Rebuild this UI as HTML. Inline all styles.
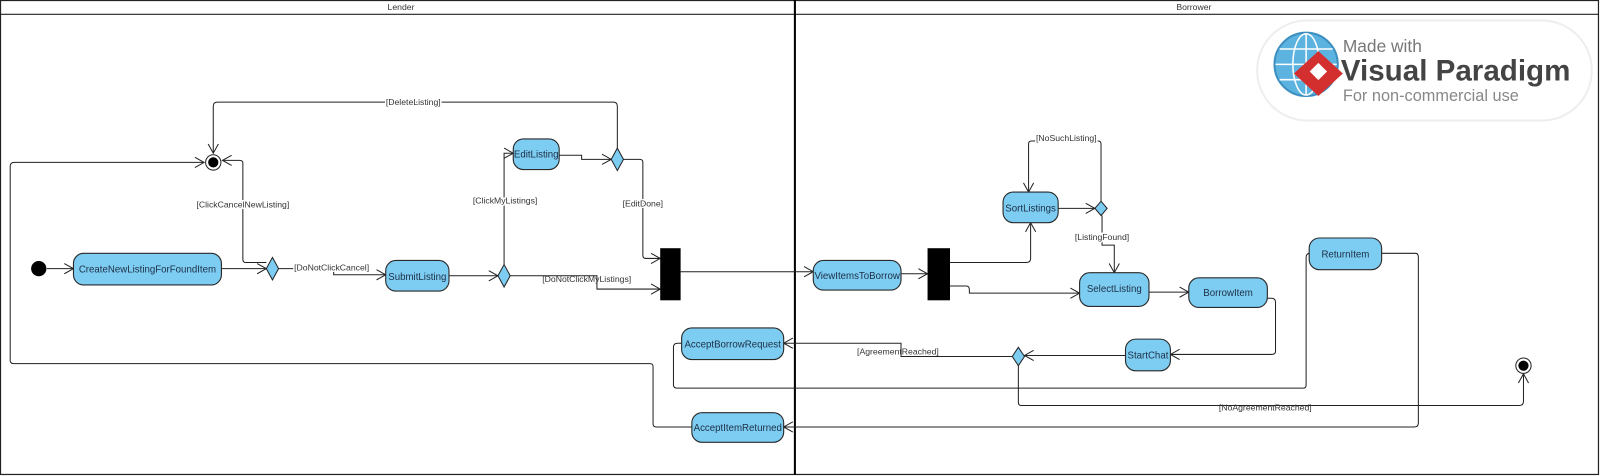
<!DOCTYPE html>
<html><head><meta charset="utf-8"><style>
html,body{margin:0;padding:0;background:#fff;}
svg{display:block;}
text{font-family:"Liberation Sans",Arial,sans-serif;}
.n{fill:#7dcdf3;stroke:#2a2a2a;stroke-width:1.1;}
.nt{font-size:9.5px;fill:#1c2e44;text-anchor:middle;}
.g{font-size:8.5px;fill:#333;text-anchor:middle;}
.l{fill:none;stroke:#222;stroke-width:1;}
.d{fill:#7dcdf3;stroke:#222;stroke-width:1;}
</style></head><body>
<svg width="1600" height="476" viewBox="0 0 1568 466" preserveAspectRatio="none" xmlns="http://www.w3.org/2000/svg">
<defs>
<marker id="a" markerWidth="12" markerHeight="12" refX="10" refY="6" orient="auto" markerUnits="userSpaceOnUse">
<path d="M1,1 L10,6 L1,11" fill="none" stroke="#222" stroke-width="1"/>
</marker>
</defs>
<rect x="0.5" y="0.5" width="1566" height="464" fill="#fff" stroke="#222" stroke-width="1.2"/>
<line x1="0" y1="14" x2="1567" y2="14" stroke="#222" stroke-width="1.2"/>
<line x1="779" y1="0" x2="779" y2="465" stroke="#000" stroke-width="2"/>
<text x="393" y="10" class="g" font-size="8.5">Lender</text>
<text x="1170" y="10" class="g" font-size="8.5">Borrower</text>

<!-- logo -->
<rect x="1232" y="20" width="328" height="98" rx="49" fill="#fff" stroke="#eee" stroke-width="2"/>
<circle cx="1280" cy="63" r="31" fill="#5cb3e0" stroke="#3d8fc0" stroke-width="2"/>
<g stroke="#fff" stroke-width="1.5" fill="none">
<ellipse cx="1280" cy="63" rx="13" ry="30"/><line x1="1280" y1="33" x2="1280" y2="93"/>
<line x1="1250" y1="63" x2="1310" y2="63"/><line x1="1254" y1="48" x2="1306" y2="48"/><line x1="1254" y1="78" x2="1306" y2="78"/>
</g>
<path d="M1292,50 L1316,72 L1292,94 L1268,72 Z" fill="#d32f2f"/>
<rect x="1286" y="64" width="12" height="12" fill="#fff" transform="rotate(45 1292 70)"/>
<text x="1316" y="51" font-size="17" fill="#777">Made with</text>
<text x="1314" y="79" font-size="29" font-weight="bold" fill="#444">Visual Paradigm</text>
<text x="1316" y="99" font-size="16" fill="#888">For non-commercial use</text>

<!-- connectors -->
<path class="l" d="M46,263 H72" marker-end="url(#a)"/>
<path class="l" d="M217,263 H261" marker-end="url(#a)"/>
<path class="l" d="M273,263 H327 V269 H378" marker-end="url(#a)"/>
<text x="325" y="265" class="g" style="paint-order:stroke" stroke="#fff" stroke-width="3">[DoNotClickCancel]</text>
<path class="l" d="M261,257 H241 Q238,257 238,254 V160 Q238,157 235,157 H218" marker-end="url(#a)"/>
<text x="238" y="203" class="g" style="paint-order:stroke" stroke="#fff" stroke-width="3">[ClickCancelNewListing]</text>
<path class="l" d="M10,353 V163 Q10,159 14,159 H200" marker-end="url(#a)"/>
<path class="l" d="M440,270 H488" marker-end="url(#a)"/>
<path class="l" d="M494,259 V150 H503" marker-end="url(#a)"/>
<text x="495" y="199" class="g" style="paint-order:stroke" stroke="#fff" stroke-width="3">[ClickMyListings]</text>
<path class="l" d="M500,270 H585 V283 H647" marker-end="url(#a)"/>
<text x="575" y="276" class="g" fill="#000">[DoNotClickMyListings]</text>
<path class="l" d="M548,152 H570 V156 H599" marker-end="url(#a)"/>
<path class="l" d="M605,145 V104 Q605,100 601,100 H213 Q209,100 209,104 V150" marker-end="url(#a)"/>
<text x="405" y="103" class="g" style="paint-order:stroke" stroke="#fff" stroke-width="3" fill="#000">[DeleteListing]</text>
<path class="l" d="M611,156 H627 Q630,156 630,159 V250 Q630,253 633,253 H647" marker-end="url(#a)"/>
<text x="630" y="202" class="g" style="paint-order:stroke" stroke="#fff" stroke-width="3">[EditDone]</text>
<path class="l" d="M10,353 Q10,356 14,356 H637 Q640,356 640,359 V415 Q640,418 643,418 H678"/>
<path class="l" d="M667,266 H797" marker-end="url(#a)"/>
<path class="l" d="M883,268 H909" marker-end="url(#a)"/>
<path class="l" d="M931,257 H1006 Q1010,257 1010,253 V218" marker-end="url(#a)"/>
<path class="l" d="M931,280 H947 Q950,280 950,284 V287 H1058" marker-end="url(#a)"/>
<path class="l" d="M1037,204 H1073" marker-end="url(#a)"/>
<path class="l" d="M1079,197 V141 Q1079,138 1076,138 H1011 Q1008,138 1008,141 V188" marker-end="url(#a)"/>
<text x="1045" y="138" class="g" style="paint-order:stroke" stroke="#fff" stroke-width="3">[NoSuchListing]</text>
<path class="l" d="M1080,211 V240 H1092 V267" marker-end="url(#a)"/>
<text x="1080" y="235" class="g" style="paint-order:stroke" stroke="#fff" stroke-width="3">[ListingFound]</text>
<path class="l" d="M1126,286 H1165" marker-end="url(#a)"/>
<path class="l" d="M1242,292 H1246 Q1250,292 1250,296 V344 Q1250,347 1246,347 H1147" marker-end="url(#a)"/>
<path class="l" d="M1103,348 H1004" marker-end="url(#a)"/>
<path class="l" d="M992,349 H883 V336 H768" marker-end="url(#a)"/>
<text x="880" y="347" class="g" fill="#000">[AgreementReached]</text>
<path class="l" d="M998,356 V394 Q998,397 1001,397 H1489 Q1493,397 1493,393 V366" marker-end="url(#a)"/>
<text x="1240" y="402" class="g" fill="#000">[NoAgreementReached]</text>
<path class="l" d="M668,336 H664 Q660,336 660,340 V377 Q660,380 664,380 H1277 Q1280,380 1280,377 V252 Q1280,248 1284,248 H1283" marker-end="url(#a)"/>
<path class="l" d="M1354,248 H1387 Q1390,248 1390,252 V414 Q1390,418 1386,418 H768" marker-end="url(#a)"/>

<!-- nodes -->
<circle cx="38" cy="263" r="7.5" fill="#000"/>
<rect class="n" x="72" y="248" width="145" height="31" rx="10"/>
<text class="nt" x="144.5" y="267">CreateNewListingForFoundItem</text>
<path class="d" d="M267,252 L273,263 L267,274 L261,263 Z"/>
<rect class="n" x="378" y="255" width="62" height="30" rx="10"/>
<text class="nt" x="409" y="274">SubmitListing</text>
<path class="d" d="M494,259 L500,270 L494,281 L488,270 Z"/>
<rect class="n" x="503" y="136" width="45" height="30" rx="10"/>
<text class="nt" x="525.5" y="154">EditListing</text>
<path class="d" d="M605,145 L611,156 L605,167 L599,156 Z"/>
<circle cx="209" cy="159" r="7.5" fill="#fff" stroke="#222" stroke-width="1"/>
<circle cx="209" cy="159" r="5" fill="#000"/>
<rect x="647" y="243" width="20" height="51" fill="#000"/>
<rect class="n" x="797" y="255" width="86" height="29" rx="10"/>
<text class="nt" x="840" y="273">ViewItemsToBorrow</text>
<rect x="909" y="243" width="22" height="51" fill="#000"/>
<rect class="n" x="983" y="188" width="54" height="30" rx="10"/>
<text class="nt" x="1010" y="207">SortListings</text>
<path class="d" d="M1079,197 L1085,204 L1079,211 L1073,204 Z"/>
<rect class="n" x="1058" y="267" width="68" height="33" rx="10"/>
<text class="nt" x="1092" y="286">SelectListing</text>
<rect class="n" x="1165" y="272" width="77" height="29" rx="10"/>
<text class="nt" x="1203.5" y="290">BorrowItem</text>
<rect class="n" x="1103" y="332" width="44" height="31" rx="10"/>
<text class="nt" x="1125" y="351">StartChat</text>
<path class="d" d="M998,340 L1004,349 L998,358 L992,349 Z"/>
<rect class="n" x="668" y="321" width="100" height="31" rx="10"/>
<text class="nt" x="718" y="340">AcceptBorrowRequest</text>
<rect class="n" x="678" y="404" width="90" height="29" rx="10"/>
<text class="nt" x="723" y="422">AcceptItemReturned</text>
<rect class="n" x="1283" y="233" width="71" height="31" rx="10"/>
<text class="nt" x="1318.5" y="252">ReturnItem</text>
<circle cx="1493" cy="358" r="7.5" fill="#fff" stroke="#222" stroke-width="1"/>
<circle cx="1493" cy="358" r="5" fill="#000"/>
</svg>
</body></html>
